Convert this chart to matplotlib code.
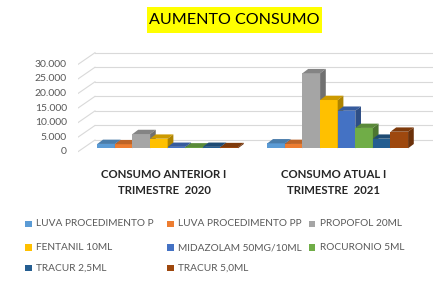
import matplotlib
matplotlib.use("Agg")
import matplotlib.pyplot as plt
from matplotlib.colors import to_rgb
from matplotlib.patches import Polygon, Rectangle
import numpy as np

# data
categories = ["CONSUMO ANTERIOR I\nTRIMESTRE  2020", "CONSUMO ATUAL I\nTRIMESTRE  2021"]
series = ["LUVA PROCEDIMENTO P", "LUVA PROCEDIMENTO PP", "PROPOFOL 20ML",
          "FENTANIL 10ML", "MIDAZOLAM 50MG/10ML", "ROCURONIO 5ML",
          "TRACUR 2,5ML", "TRACUR 5,0ML"]
values_2020 = [1500, 1400, 4900, 3300, 500, 300, 500, 400]
values_2021 = [1700, 1500, 25800, 16600, 12900, 7000, 3300, 5700]
yticks = [0, 5000, 10000, 15000, 20000, 25000, 30000]

colors = ["#5B9BD5", "#ED7D31", "#A5A5A5", "#FFC000",
          "#4472C4", "#70AD47", "#255E91", "#9E480E"]

plt.rcParams['font.family'] = ['Lato', 'DejaVu Sans']

fig = plt.figure(figsize=(4.33, 2.87), dpi=100)
ax = fig.add_axes([0.1801, 0.4599, 0.8199, 0.4007])
xl, xr = -0.5276, 1.5606
ax.set_xlim(xl, xr)
ax.set_ylim(-2302, 37216)
ax.axis("off")

# pseudo 3d geometry (data units)
w = 0.1035
dx, dy = 0.0335, 1478          # bar depth
front_off, back_off = -1168, 2852
wall_dx = 0.1

grid_col = "#D9D9D9"
for v in yticks:
    ax.plot([xl, xl + wall_dx], [v + front_off, v + back_off], color=grid_col, lw=0.8, zorder=1)
    ax.plot([xl + wall_dx, xr], [v + back_off, v + back_off], color=grid_col, lw=0.8, zorder=1)
    ax.text(xl - 0.065, v + front_off, f"{v:,}".replace(",", "."), ha="right", va="center",
            fontsize=7.5, color="#595959")

data = np.array([values_2020, values_2021])
for g in range(len(categories)):
    for i, c in enumerate(colors):
        x0 = g + (i - 4) * w
        h = data[g, i]
        z = 3 + g * 10 + i
        ax.bar(x0, h, width=w, align="edge", color=c, zorder=z)
        top = [(x0, h), (x0 + w, h), (x0 + w + dx, h + dy), (x0 + dx, h + dy)]
        side = [(x0 + w, 0), (x0 + w + dx, dy), (x0 + w + dx, h + dy), (x0 + w, h)]
        ax.add_patch(Polygon(top, closed=True, facecolor=np.array(to_rgb(c)) * 0.8,
                             edgecolor="none", zorder=z))
        ax.add_patch(Polygon(side, closed=True, facecolor=np.array(to_rgb(c)) * 0.68,
                             edgecolor="none", zorder=z))
    for k, line in enumerate(categories[g].split("\n")):
        ax.text(g - 0.022, -8832 - k * 5500, line, ha="center", va="center", fontsize=8.2,
                fontweight="bold", color="#262626", clip_on=False)

# title
fig.patches.append(Rectangle((146.7 / 433, 1 - 33.3 / 287), 175 / 433, 26.6 / 287,
                             transform=fig.transFigure, facecolor="#FFFF00", edgecolor="none"))
fig.text(234 / 433, 1 - 20.5 / 287, "AUMENTO CONSUMO", ha="center", va="center",
         fontsize=11.6, color="black")

# legend, row-wise like the original
col_x = [28, 170, 311.7]
row_y = [224, 247.7, 268.3]
for k, (lab, c) in enumerate(zip(series, colors)):
    r, cc = divmod(k, 3)
    px, py = col_x[cc], row_y[r]
    fig.patches.append(Rectangle(((px - 3) / 433, 1 - (py + 3) / 287), 6.5 / 433, 6.5 / 287,
                                 transform=fig.transFigure, facecolor=c, edgecolor="none"))
    fig.text((px + 8.5) / 433, 1 - py / 287, lab, ha="left", va="center",
             fontsize=7.3, color="#595959")

fig.savefig("out.png", dpi=100, facecolor="white")
